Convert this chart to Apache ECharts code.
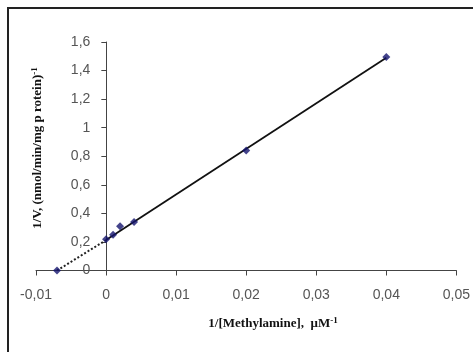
<!DOCTYPE html>
<html>
<head>
<meta charset="utf-8">
<script src="https://cdn.jsdelivr.net/npm/echarts@6/dist/echarts.min.js"></script>
<style>
html,body{margin:0;padding:0;background:#fff;}
#c{width:473px;height:352px;}
</style>
</head>
<body>
<div id="c"></div>
<script>
// Data
var pointX = [0, 0.001, 0.002, 0.004, 0.02, 0.04];
var pointY = [0.218, 0.25, 0.31, 0.34, 0.84, 1.495];
var interceptX = [-0.007];
var interceptY = [0];
var fitX = [0, 0.04];
var fitY = [0.213, 1.49];
var extX = [-0.007, 0];
var extY = [0, 0.213];
var xTicks = ['-0,01', '0', '0,01', '0,02', '0,03', '0,04', '0,05'];
var yTicks = ['0', '0,2', '0,4', '0,6', '0,8', '1', '1,2', '1,4', '1,6'];
var xTitle = '1/[Methylamine],  \u03bcM';
var yTitle = '1/V, (nmol/min/mg p rotein)';

function zip(a, b) { return a.map(function (v, i) { return [v, b[i]]; }); }
function fmt(v) { return String(+(+v).toFixed(3)).replace('.', ','); }

var W = 473, gridLeft = 36, gridRight = 15;
var xMin = -0.01, xMax = 0.05;
// shift the y axis so it sits on x = 0
var yOffset = -(0 - xMin) / (xMax - xMin) * (W - gridLeft - gridRight);

var chart = echarts.init(document.getElementById('c'), null, {renderer: 'canvas'});
var axisColor = '#444';
var labelStyle = {color: '#555', fontFamily: 'Liberation Sans', fontSize: 14};
chart.setOption({
  backgroundColor: '#fff',
  animation: false,
  grid: {left: gridLeft, right: gridRight, top: 42, bottom: 81.5, containLabel: false},
  xAxis: {
    type: 'value', min: xMin, max: xMax, interval: 0.01,
    axisLine: {show: true, onZero: true, lineStyle: {color: axisColor, width: 1}},
    axisTick: {show: true, length: 5, inside: false, lineStyle: {color: axisColor}},
    axisLabel: Object.assign({margin: 18, formatter: function (v) { return fmt(v); }}, labelStyle),
    splitLine: {show: false}
  },
  yAxis: {
    type: 'value', min: 0, max: 1.6, interval: 0.2, offset: yOffset,
    axisLine: {show: true, onZero: false, lineStyle: {color: axisColor, width: 1}},
    axisTick: {show: true, length: 5, inside: false, lineStyle: {color: axisColor}},
    axisLabel: Object.assign({margin: 16, formatter: function (v) { return fmt(v); }}, labelStyle),
    splitLine: {show: false}
  },
  graphic: [
    {type: 'rect', shape: {x: 8, y: 8, width: 480, height: 360}, style: {fill: 'none', stroke: '#222', lineWidth: 2}, z: 100},
    {type: 'text', x: 273, y: 324, style: {
      text: '{a|' + xTitle + '}{s|-1}', align: 'center', verticalAlign: 'middle',
      rich: {a: {fontFamily: 'Liberation Serif', fontWeight: 'bold', fontSize: 13, fill: '#111'},
             s: {fontFamily: 'Liberation Serif', fontWeight: 'bold', fontSize: 9, fill: '#111', padding: [0, 0, 7, 0]}}
    }},
    {type: 'text', x: 38, y: 148, rotation: Math.PI / 2, style: {
      text: '{a|' + yTitle + '}{s|-1}', align: 'center', verticalAlign: 'middle',
      rich: {a: {fontFamily: 'Liberation Serif', fontWeight: 'bold', fontSize: 13, fill: '#111'},
             s: {fontFamily: 'Liberation Serif', fontWeight: 'bold', fontSize: 9, fill: '#111', padding: [0, 0, 7, 0]}}
    }}
  ],
  series: [
    {type: 'line', data: zip(extX, extY), symbol: 'none', lineStyle: {color: '#222', width: 2, type: 'dotted'}, z: 2},
    {type: 'line', data: zip(fitX, fitY), symbol: 'none', lineStyle: {color: '#111', width: 1.8}, z: 2},
    {type: 'scatter', data: zip(pointX, pointY).concat(zip(interceptX, interceptY)), symbol: 'diamond', symbolSize: 8,
     itemStyle: {color: '#14146e'}, z: 3}
  ]
});
</script>
</body>
</html>
